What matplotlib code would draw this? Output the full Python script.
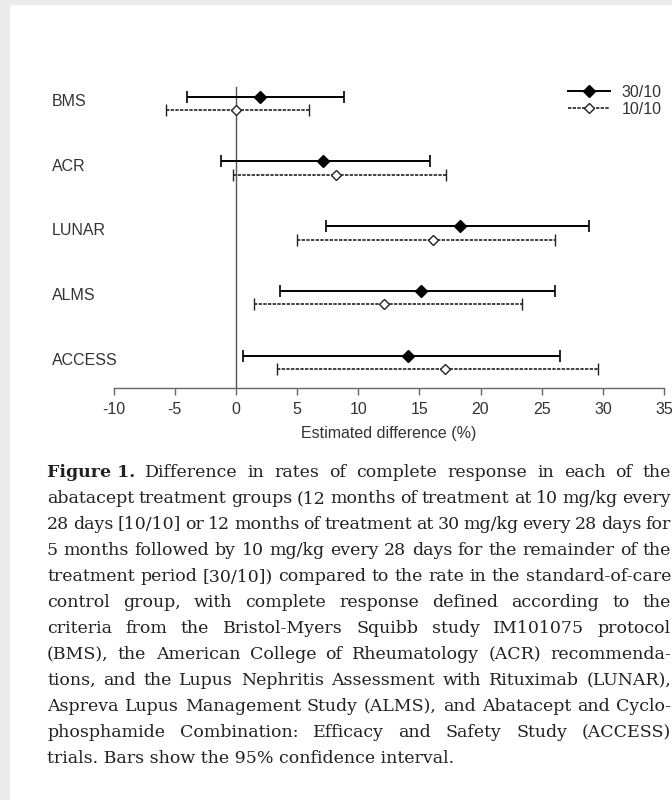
import matplotlib.pyplot as plt
from matplotlib.lines import Line2D
from matplotlib.patches import Rectangle
from matplotlib import transforms
import numpy as np

# Data (estimated difference in complete response rate, % with 95% CI)
studies = ['BMS', 'ACR', 'LUNAR', 'ALMS', 'ACCESS']
est_30 = [2.0, 7.1, 18.3, 15.1, 14.1]
lo_30 = [-4.0, -1.2, 7.4, 3.6, 0.6]
hi_30 = [8.8, 15.9, 28.9, 26.1, 26.5]
est_10 = [0.0, 8.2, 16.1, 12.1, 17.1]
lo_10 = [-5.7, -0.2, 5.0, 1.5, 3.4]
hi_10 = [6.0, 17.2, 26.1, 23.4, 29.6]
series_labels = ['30/10', '10/10']
xticks = [-10, -5, 0, 5, 10, 15, 20, 25, 30, 35]

caption_lines = [
    "Figure 1. Difference in rates of complete response in each of the",
    "abatacept treatment groups (12 months of treatment at 10 mg/kg every",
    "28 days [10/10] or 12 months of treatment at 30 mg/kg every 28 days for",
    "5 months followed by 10 mg/kg every 28 days for the remainder of the",
    "treatment period [30/10]) compared to the rate in the standard-of-care",
    "control group, with complete response defined according to the",
    "criteria from the Bristol-Myers Squibb study IM101075 protocol",
    "(BMS), the American College of Rheumatology (ACR) recommenda-",
    "tions, and the Lupus Nephritis Assessment with Rituximab (LUNAR),",
    "Aspreva Lupus Management Study (ALMS), and Abatacept and Cyclo-",
    "phosphamide Combination: Efficacy and Safety Study (ACCESS)",
    "trials. Bars show the 95% confidence interval.",
]

W, H = 672, 800
fig = plt.figure(figsize=(W / 100, H / 100), dpi=100)
plt.rcParams['font.family'] = ['Liberation Sans', 'DejaVu Sans']


def fx(px):
    return px / W


def fy(py):
    return 1 - py / H


# page border (scan look)
fig.patches.append(Rectangle((0, fy(4)), 1, 4 / H, transform=fig.transFigure,
                             color='#ebebeb', zorder=0))
fig.patches.append(Rectangle((0, 0), 9 / W, 1, transform=fig.transFigure,
                             color='#ebebeb', zorder=0))

# Axes placement
ax_left, ax_right = 113.6, 664.0
ax_top, ax_bottom = 80.0, 388.3
ax = fig.add_axes([fx(ax_left), fy(ax_bottom), (ax_right - ax_left) / W,
                   (ax_bottom - ax_top) / H])
ax.set_xlim(-10, 35)
ax.set_ylim(4.40, -0.36)

y = np.arange(len(studies))
off = 0.104

e30 = np.array(est_30)
e10 = np.array(est_10)
ax.errorbar(e30, y - off, xerr=[e30 - np.array(lo_30), np.array(hi_30) - e30],
            fmt='D', color='black', ms=6, mfc='black', mec='black',
            elinewidth=1.4, capsize=4.5, capthick=1.2, zorder=3)
eb = ax.errorbar(e10, y + off, xerr=[e10 - np.array(lo_10), np.array(hi_10) - e10],
                 fmt='D', color='#222222', ms=5.5, mfc='white', mec='#222222', mew=1.0,
                 elinewidth=1.2, capsize=4, capthick=1.0, zorder=3)
eb[2][0].set_linestyle((0, (2.0, 0.8)))

# zero reference line
ax.axvline(0, ymin=0, ymax=(ax_bottom - 86.7) / (ax_bottom - ax_top),
           color='#555555', lw=1.0, zorder=1)

# study labels
tr = transforms.blended_transform_factory(fig.transFigure, ax.transData)
for yi, name in zip(y, studies):
    ax.text(fx(52), yi - 0.03, name, transform=tr, ha='left', va='center',
            fontsize=11.5, color='#333333')

for s in ['top', 'right', 'left']:
    ax.spines[s].set_visible(False)
ax.spines['bottom'].set_color('#666666')
ax.spines['bottom'].set_linewidth(1.0)
ax.set_yticks([])
ax.set_xticks(xticks)
ax.set_xticklabels([str(t) for t in xticks])
ax.tick_params(axis='x', direction='out', length=5, width=1.0, color='#666666',
               labelsize=11.5, labelcolor='#333333', pad=5)
ax.set_xlabel('Estimated difference (%)', fontsize=11.5, color='#333333', labelpad=6)

# legend
handles = [
    Line2D([], [], color='black', lw=1.4, marker='D', ms=6, mfc='black', mec='black'),
    Line2D([], [], color='#222222', lw=1.2, ls=(0, (2.0, 0.8)), marker='D', ms=5.5,
           mfc='white', mec='#222222', mew=1.0),
]
fig.legend(handles, series_labels, loc='upper left', bbox_to_anchor=(fx(568), fy(85)),
           frameon=False, fontsize=11.5, handlelength=2.6, handletextpad=0.75,
           labelspacing=0.12, borderpad=0, borderaxespad=0, labelcolor='#333333')

# caption, justified
serif = ['DejaVu Serif']
cap_size = 12.5
x0, x1 = 47.0, 671.0
base0, step = 477.0, 26.0
renderer = fig.canvas.get_renderer()


def text_w(t):
    return t.get_window_extent(renderer).width


for i, line in enumerate(caption_lines):
    yb = fy(base0 + step * i)
    if i == len(caption_lines) - 1:
        fig.text(fx(x0), yb, line, family=serif, fontsize=cap_size, color='#222222',
                 ha='left', va='baseline')
        continue
    words = line.split(' ')
    weights = ['normal'] * len(words)
    if i == 0:
        words = ['Figure 1.'] + words[2:]
        weights = ['bold'] + ['normal'] * (len(words) - 1)
    objs = [fig.text(0, yb, w, family=serif, fontsize=cap_size, color='#222222',
                     weight=wt, ha='left', va='baseline') for w, wt in zip(words, weights)]
    widths = [text_w(o) for o in objs]
    gap = (x1 - x0 - sum(widths)) / (len(words) - 1)
    xpos = x0
    for o, wd in zip(objs, widths):
        o.set_x(fx(xpos))
        xpos += wd + gap

fig.savefig('out.png', dpi=100)
